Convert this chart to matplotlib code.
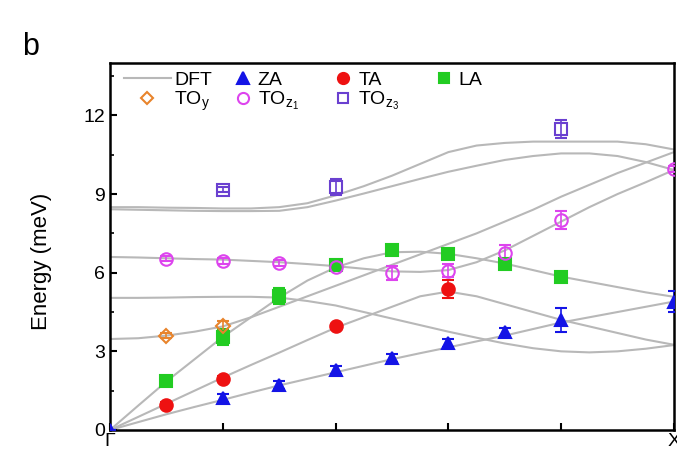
import matplotlib.pyplot as plt
from matplotlib.lines import Line2D
from matplotlib.ticker import MultipleLocator

plt.rcParams['font.family'] = ['Liberation Sans', 'DejaVu Sans']
plt.rcParams['mathtext.default'] = 'regular'

# DFT dispersion curves (q from Gamma to X, step 0.05)
q_dft = [i * 0.05 for i in range(21)]
dft_za = [0.0, 0.3, 0.6, 0.88, 1.15, 1.43, 1.7, 1.95, 2.2, 2.45, 2.7,
          2.93, 3.15, 3.38, 3.6, 3.85, 4.1, 4.3, 4.5, 4.7, 4.9]
dft_ta = [0.0, 0.5, 1.0, 1.5, 2.0, 2.48, 2.95, 3.43, 3.9, 4.3, 4.7,
          5.1, 5.28, 5.1, 4.8, 4.5, 4.2, 3.95, 3.7, 3.45, 3.25]
dft_la = [0.0, 0.93, 1.85, 2.7, 3.55, 4.3, 5.05, 5.7, 6.2, 6.55, 6.78,
          6.8, 6.72, 6.55, 6.35, 6.1, 5.85, 5.65, 5.45, 5.25, 5.08]
dft_toy = [3.47, 3.5, 3.6, 3.75, 3.95, 4.3, 4.7, 5.1, 5.5, 5.9, 6.3,
           6.7, 7.1, 7.5, 7.95, 8.4, 8.9, 9.35, 9.8, 10.2, 10.6]
dft_opt2 = [5.04, 5.04, 5.05, 5.07, 5.08, 5.08, 5.05, 4.92, 4.75, 4.5, 4.25,
            4.0, 3.75, 3.52, 3.3, 3.12, 3.0, 2.96, 3.0, 3.1, 3.24]
dft_toz1 = [6.6, 6.58, 6.55, 6.52, 6.5, 6.45, 6.4, 6.33, 6.25, 6.15, 6.05,
            6.03, 6.1, 6.4, 6.85, 7.4, 7.95, 8.5, 9.0, 9.45, 9.92]
dft_toz3a = [8.5, 8.5, 8.48, 8.47, 8.45, 8.45, 8.5, 8.65, 8.95, 9.3, 9.7,
             10.15, 10.6, 10.85, 10.95, 11.0, 11.0, 11.0, 11.0, 10.9, 10.7]
dft_toz3b = [8.42, 8.4, 8.38, 8.36, 8.35, 8.35, 8.36, 8.5, 8.75, 9.02, 9.3,
             9.58, 9.85, 10.08, 10.3, 10.45, 10.55, 10.55, 10.45, 10.22, 9.92]

# measured points
q_za = [0.0, 0.2, 0.3, 0.4, 0.5, 0.6, 0.7, 0.8, 1.0]
e_za = [0.0, 1.22, 1.72, 2.29, 2.75, 3.32, 3.74, 4.2, 4.9]
err_za = [0, 0.15, 0.15, 0.15, 0.15, 0.15, 0.15, 0.45, 0.4]

q_ta = [0.1, 0.2, 0.4, 0.6]
e_ta = [0.95, 1.95, 3.95, 5.38]
err_ta = [0.1, 0.1, 0.1, 0.35]

q_la = [0.1, 0.2, 0.3, 0.4, 0.5, 0.6, 0.7, 0.8]
e_la = [1.85, 3.55, 5.1, 6.3, 6.85, 6.7, 6.35, 5.84]
err_la = [0.1, 0.3, 0.3, 0.1, 0.1, 0.1, 0.1, 0.1]

q_toy = [0.1, 0.2]
e_toy = [3.6, 3.97]
err_toy = [0.1, 0.2]

q_toz1 = [0.1, 0.2, 0.3, 0.4, 0.5, 0.6, 0.7, 0.8, 1.0]
e_toz1 = [6.53, 6.45, 6.37, 6.22, 5.99, 6.07, 6.76, 8.02, 9.96]
err_toz1 = [0.1, 0.1, 0.1, 0.15, 0.25, 0.25, 0.3, 0.35, 0.1]

q_toz3 = [0.2, 0.4, 0.8]
e_toz3 = [9.16, 9.27, 11.49]
err_toz3 = [0.1, 0.3, 0.35]

fig = plt.figure(figsize=(6.77, 4.63), dpi=100)
ax = fig.add_axes([0.1625, 0.0713, 0.833, 0.7927])

grey = '#b8b8b8'
for curve in [dft_za, dft_ta, dft_la, dft_toy, dft_opt2,
              dft_toz1, dft_toz3a, dft_toz3b]:
    ax.plot(q_dft, curve, color=grey, lw=1.5, zorder=1)

# (label, q, E, err, marker, size, colour, filled)
series = [
    ('ZA', q_za, e_za, err_za, '^', 9, '#1414e6', True),
    ('TA', q_ta, e_ta, err_ta, 'o', 9, '#ee1111', True),
    ('LA', q_la, e_la, err_la, 's', 8, '#22cc22', True),
    ('TO$_y$', q_toy, e_toy, err_toy, 'D', 7, '#e8842c', False),
    ('TO$_{z_1}$', q_toz1, e_toz1, err_toz1, 'o', 9, '#dd44ee', False),
    ('TO$_{z_3}$', q_toz3, e_toz3, err_toz3, 's', 8, '#6a40d0', False),
]
proxies = {'DFT': Line2D([], [], color=grey, lw=1.5)}
for name, q, e, err, m, ms, c, filled in series:
    mfc = c if filled else 'none'
    ax.errorbar(q, e, yerr=err, ls='none', marker=m, ms=ms, color=c, mfc=mfc,
                mew=1.5, capsize=4, elinewidth=1.2, capthick=1.2, zorder=3)
    proxies[name] = Line2D([], [], ls='none', marker=m, ms=ms - 1, color=c,
                           mfc=mfc, mew=1.5)

ax.set_xlim(0, 1)
ax.set_ylim(0, 14)
ax.set_xticks([0, 0.2, 0.4, 0.6, 0.8, 1.0])
ax.set_xticklabels(['Γ', '', '', '', '', 'X'])
ax.set_yticks([0, 3, 6, 9, 12])
ax.yaxis.set_minor_locator(MultipleLocator(1.5))
ax.tick_params(direction='in', length=5, width=1.5, labelsize=14)
ax.tick_params(which='minor', direction='in', length=3, width=1.2)
ax.tick_params(axis='x', pad=2)
for s in ax.spines.values():
    s.set_linewidth(1.8)
ax.set_ylabel('Energy (meV)', fontsize=16)
ax.yaxis.set_label_coords(-0.103, 0.46)

# legend in two parts: the long DFT column, then three marker columns
leg_kw = dict(loc='upper left', frameon=False, fontsize=14, borderpad=0,
              borderaxespad=0, labelspacing=0.05,
              bbox_transform=fig.transFigure)
left = ['DFT', 'TO$_y$']
leg1 = ax.legend([proxies[n] for n in left], left, ncol=1,
                 handlelength=2.4, handletextpad=0.2,
                 bbox_to_anchor=(0.183, 0.846), **leg_kw)
ax.add_artist(leg1)
right = ['ZA', 'TO$_{z_1}$', 'TA', 'TO$_{z_3}$', 'LA']
ax.legend([proxies[n] for n in right], right, ncol=3,
          handlelength=0.95, handletextpad=0.3, columnspacing=1.8,
          bbox_to_anchor=(0.345, 0.846), **leg_kw)

fig.text(0.032, 0.881, 'b', fontsize=22)

fig.savefig('out.png', dpi=100)
